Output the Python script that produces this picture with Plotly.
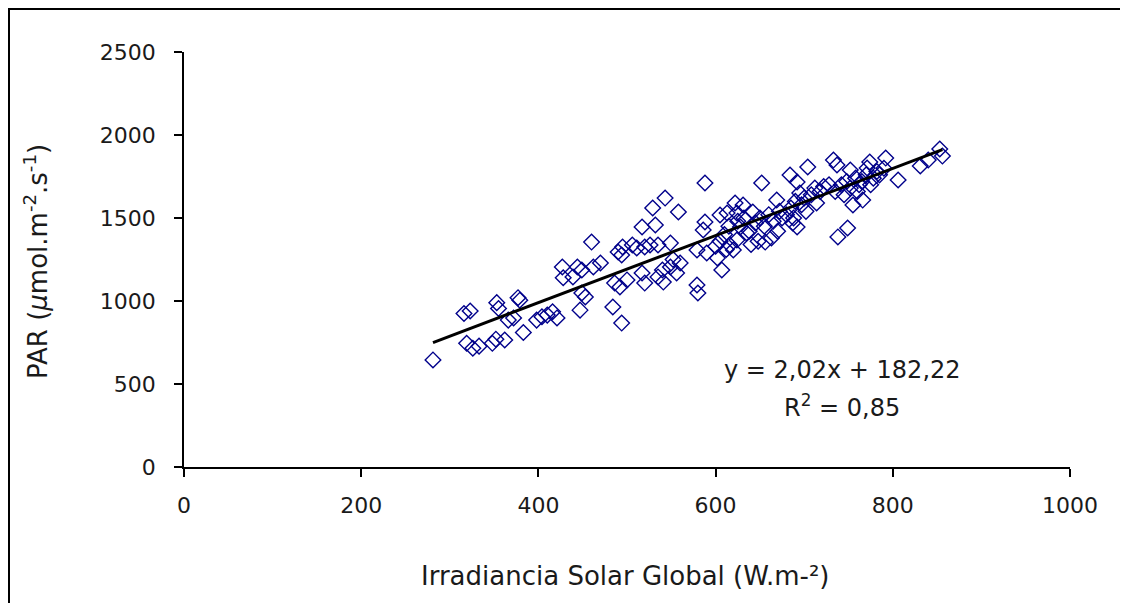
import plotly.graph_objects as go

# Global solar irradiance (W/m2) and PAR (umol/m2/s)
irradiance = [281, 316, 323, 319, 326, 333, 348, 352, 353, 355, 362, 366, 372, 377, 379, 383,
              398, 404, 410, 416, 421, 427, 428, 439, 444, 449, 447, 449, 453, 460, 462, 470,
              484, 486, 492, 494, 490, 495, 494, 500, 506, 511, 517, 520, 520, 526, 517, 532,
              529, 543, 535, 549, 535, 540, 541, 549, 560, 556, 558, 552, 579, 580, 588, 588,
              586, 579, 590, 605, 613, 602, 607, 616, 624, 620, 622, 631, 624, 628, 635, 642,
              652, 656, 669, 684, 692, 687, 692, 704, 714, 733, 737, 752, 771, 738, 749, 755,
              766, 774, 792, 806, 831, 840, 853, 856,
              610, 615, 625, 632, 638, 645, 650, 655, 660, 665, 672, 675, 680, 685, 688, 690,
              695, 697, 700, 702, 708, 712, 718, 722, 728, 735, 742, 748, 752, 758, 762, 765,
              770, 775, 778, 782, 785, 790, 760, 745, 640, 648, 663, 670, 600, 605, 612]
par = [645, 925, 940, 745, 715, 728, 745, 770, 990, 955, 765, 885, 898, 1020, 1005, 810,
       885, 905, 915, 935, 898, 1205, 1140, 1145, 1205, 1187, 945, 1048, 1024, 1355, 1205, 1229,
       964, 1108, 1084, 867, 1295, 1325, 1277, 1127, 1337, 1319, 1169, 1108, 1325, 1337, 1446, 1458,
       1560, 1620, 1337, 1349, 1145, 1187, 1114, 1205, 1229, 1169, 1536, 1250, 1096, 1048, 1711, 1476,
       1428, 1307, 1289, 1518, 1530, 1259, 1187, 1337, 1367, 1307, 1590, 1578, 1530, 1446, 1410, 1536,
       1711, 1355, 1608, 1759, 1717, 1470, 1446, 1807, 1590, 1849, 1819, 1789, 1801, 1386, 1440, 1578,
       1608, 1837, 1861, 1729, 1813, 1849, 1916, 1873,
       1400, 1450, 1480, 1500, 1420, 1470, 1500, 1450, 1520, 1480, 1540, 1500, 1520, 1560, 1500, 1600,
       1650, 1580, 1620, 1540, 1640, 1680, 1660, 1690, 1700, 1660, 1700, 1720, 1680, 1740, 1700, 1720,
       1760, 1700, 1740, 1780, 1760, 1800, 1660, 1640, 1340, 1360, 1380, 1420, 1330, 1360, 1310]

slope = 2.02
intercept = 182.22
r_squared = 0.85

x_ticks = [0, 200, 400, 600, 800, 1000]
y_ticks = [0, 500, 1000, 1500, 2000, 2500]

FONT = "DejaVu Sans"
FS = 22
FS_TITLE = 26
FS_EQ = 24
COL = "#1a1a1a"

# page offset of the figure (browser body margin)
OFF = 8
L, R, T, B = 184 - OFF, 58, 52 - OFF, 136
W, H = 1128 - OFF, 603 - OFF
PW, PH = 886, 415

x_fit = [min(irradiance), max(irradiance)]
y_fit = [slope * v + intercept for v in x_fit]

fig = go.Figure()
fig.add_trace(go.Scatter(
    x=irradiance, y=par, mode="markers",
    marker=dict(symbol="diamond-open", size=12, color="#00008B", line=dict(width=1.4, color="#00008B")),
    showlegend=False, hoverinfo="x+y"))
fig.add_trace(go.Scatter(
    x=x_fit, y=y_fit, mode="lines",
    line=dict(color="black", width=3), showlegend=False, hoverinfo="skip"))

def px_to_paper_x(px):
    return (px - 184) / PW

def py_to_paper_y(py):
    return (467 - py) / PH

fig.update_layout(
    width=W, height=H,
    margin=dict(l=L, r=R, t=T, b=B),
    paper_bgcolor="white", plot_bgcolor="white",
    font=dict(family=FONT, size=FS, color=COL),
    xaxis=dict(range=[0, 1000], tickvals=x_ticks, ticktext=[str(v) for v in x_ticks],
               showgrid=False, zeroline=False, showline=True, linecolor="black", linewidth=1.5,
               ticks="outside", ticklen=8, tickwidth=1.5, tickcolor="black",
               ticklabelstandoff=10, tickfont=dict(family=FONT, size=FS, color=COL)),
    yaxis=dict(range=[0, 2500], tickvals=y_ticks, ticktext=[str(v) for v in y_ticks],
               showgrid=False, zeroline=False, showline=True, linecolor="black", linewidth=1.5,
               ticks="outside", ticklen=8, tickwidth=1.5, tickcolor="black",
               ticklabelstandoff=14, tickfont=dict(family=FONT, size=FS, color=COL)),
    shapes=[dict(type="rect", xref="paper", yref="paper",
                 x0=px_to_paper_x(9), x1=px_to_paper_x(1126),
                 y0=py_to_paper_y(640), y1=py_to_paper_y(9),
                 line=dict(color="black", width=2), layer="below")],
    annotations=[
        dict(text="Irradiancia Solar Global (W.m-²)", xref="paper", yref="paper",
             x=px_to_paper_x(625), y=py_to_paper_y(576), yanchor="middle", xanchor="center",
             showarrow=False, font=dict(family=FONT, size=FS_TITLE, color=COL)),
        dict(text="PAR (<i>µ</i>mol.m<sup>-2</sup>.s<sup>-1</sup>)", xref="paper", yref="paper",
             x=px_to_paper_x(36), y=py_to_paper_y(262), xanchor="center", yanchor="middle",
             textangle=-90, showarrow=False, font=dict(family=FONT, size=FS_TITLE, color=COL)),
        dict(text=f"y = {slope:.2f}x + {intercept:.2f}".replace(".", ","), xref="paper", yref="paper",
             x=px_to_paper_x(842), y=py_to_paper_y(370), xanchor="center", yanchor="middle",
             showarrow=False, font=dict(family=FONT, size=FS_EQ, color=COL)),
        dict(text=f"R<sup>2</sup> = {r_squared:.2f}".replace(".", ","), xref="paper", yref="paper",
             x=px_to_paper_x(842), y=py_to_paper_y(406), xanchor="center", yanchor="middle",
             showarrow=False, font=dict(family=FONT, size=FS_EQ, color=COL)),
    ],
)

fig.write_html("out.html")
